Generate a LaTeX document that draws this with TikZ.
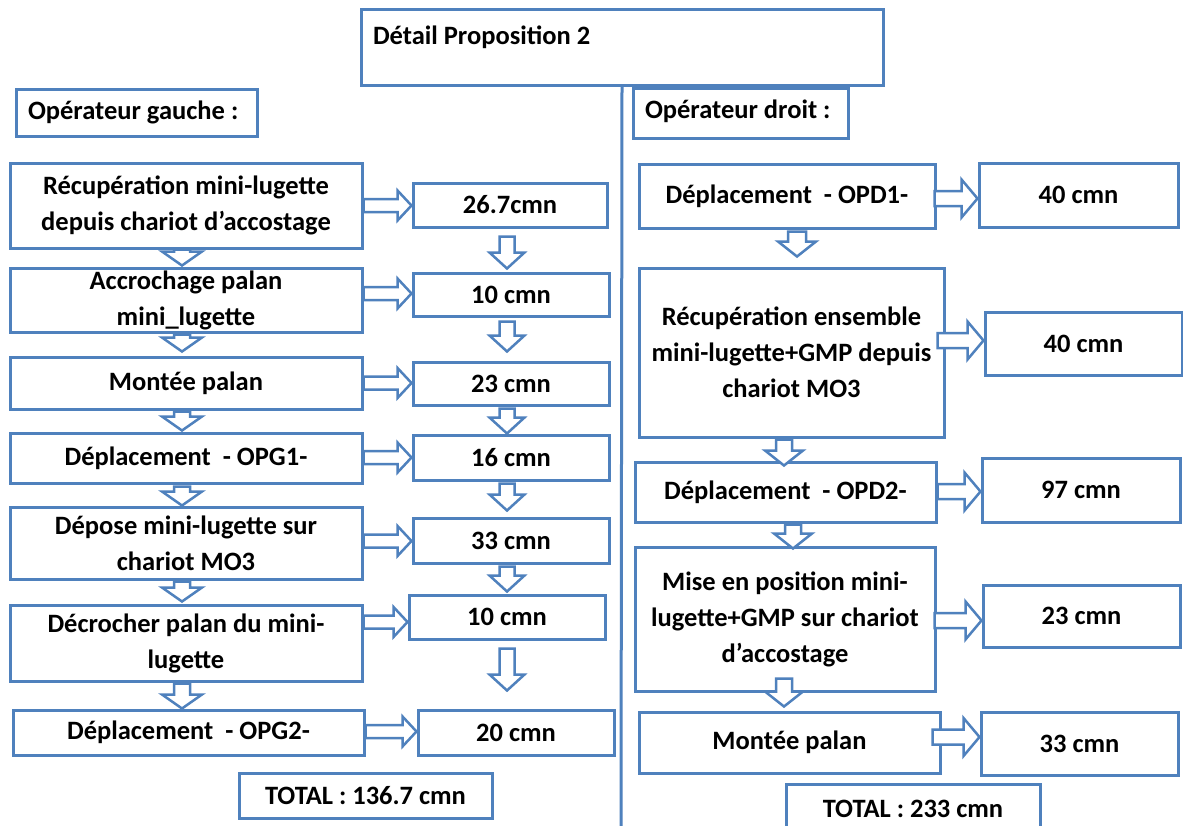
\documentclass[tikz,border=0pt]{standalone}
\usepackage{fontspec}
\setmainfont{Carlito}
\usetikzlibrary{calc}

\definecolor{boxblue}{HTML}{4F81BD}

\tikzset{
  box/.style={draw=boxblue, line width=3pt, fill=white, inner sep=0pt,
              align=center, font=\fontsize{26.5}{36}\selectfont\bfseries},
  blockarrow/.style={draw=boxblue, line width=2.5pt, fill=white, line join=miter},
  divider/.style={draw=boxblue, line width=3pt},
}

% one line of text with the font's own word spacing
\newcommand\oneline[1]{\mbox{\spaceskip=0pt \xspaceskip=0pt #1}}

% box given by its corners: [options]{name}{x1}{y1}{x2}{y2}{text}
\newcommand\pbox[7][]{%
  \node[box, minimum width={(#5-#3)*1pt}, minimum height={(#6-#4)*1pt}, #1]
    (#2) at ({(#3+#5)/2},{(#4+#6)/2}) {#7};}

% hollow arrow pointing right: {from}{to}{y}{tail inset}{shaft half}{head half}{head length}
\newcommand\harrow[7]{%
  \draw[blockarrow] let \p1=($(#1.east |- 0,#3)+(-#4,0)$), \p2=(#2.west |- 0,#3) in
    (\x1,{\y1-#5pt}) -- ({\x2-#7pt},{\y1-#5pt}) -- ({\x2-#7pt},{\y1-#6pt})
    -- (\x2,\y1) -- ({\x2-#7pt},{\y1+#6pt}) -- ({\x2-#7pt},{\y1+#5pt})
    -- (\x1,{\y1+#5pt}) -- cycle;}

% hollow arrow pointing down: {from}{to}{x}{start shift}{end shift}{shaft half}{head half}{head length}
\newcommand\varrow[8]{%
  \draw[blockarrow] let \p1=($(#3,0 |- #1.south)+(0,#4)$), \p2=($(#3,0 |- #2.north)+(0,#5)$) in
    ({\x1-#6pt},\y1) -- ({\x1-#6pt},{\y2+#8pt}) -- ({\x1-#7pt},{\y2+#8pt})
    -- (\x1,\y2) -- ({\x1+#7pt},{\y2+#8pt}) -- ({\x1+#6pt},{\y2+#8pt})
    -- ({\x1+#6pt},\y1) -- cycle;}

\begin{document}
\begin{tikzpicture}[x=1pt,y=-1pt]
\clip (0,0) rectangle (1183,825);
\fill[white] (0,0) rectangle (1183,825);

% header
\pbox[align=left, text width=498pt, inner xsep=12pt, text height=35pt, text depth=41pt]
  {title}{361}{9}{883}{85}{\oneline{Détail Proposition 2}}
\coordinate (vend) at (621,830);
\draw[divider] (title.south) -- (vend);

\pbox[align=left, text width=217pt, inner xsep=12pt, text height=30pt, text depth=17pt]
  {opg}{16}{89}{257}{136}{\oneline{Opérateur gauche :}}
\pbox[align=left, text width=191pt, inner xsep=12pt, text height=30pt, text depth=20pt]
  {opd}{633}{88}{848}{138}{\oneline{Opérateur droit :}}

% left operator: steps
\pbox{l1}{10}{163}{362}{248}{Récupération mini-lugette\\depuis chariot d’accostage}
\pbox{l2}{10}{268}{362}{332}{Accrochage palan\\mini\_lugette}
\pbox{l3}{10}{357}{362}{409}{Montée palan}
\pbox{l4}{10}{433}{362}{483}{Déplacement\ \ - OPG1-}
\pbox{l5}{10}{507}{362}{579}{Dépose mini-lugette sur\\chariot MO3}
\pbox{l6}{10}{605}{362}{681}{Décrocher palan du mini-\\lugette}
\pbox{l7}{13}{710}{364}{755}{Déplacement\ \ - OPG2-}

% left operator: durations
\pbox{v1}{413}{183}{607}{227}{26.7cmn}
\pbox{v2}{413}{273}{609}{316}{10 cmn}
\pbox{v3}{413}{362}{609}{405}{23 cmn}
\pbox{v4}{413}{435}{609}{480}{16 cmn}
\pbox{v5}{413}{518}{609}{563}{33 cmn}
\pbox{v6}{409}{595}{605}{639}{10 cmn}
\pbox{v7}{418}{710}{614}{755}{20 cmn}
\pbox{totl}{239}{773}{492}{818}{TOTAL : 136.7 cmn}

% right operator: steps
\pbox{r1}{639}{164}{935}{228}{Déplacement\ \ - OPD1-}
\pbox{r2}{639}{268}{944}{437}{Récupération ensemble\\mini-lugette+GMP depuis\\chariot MO3}
\pbox{r3}{635}{462}{936}{522}{Déplacement\ \ - OPD2-}
\pbox{r4}{635}{547}{935}{691}{Mise en position mini-\\lugette+GMP sur chariot\\d’accostage}
\pbox{r5}{639}{712}{940}{773}{Montée palan}

% right operator: durations
\pbox{w1}{979}{163}{1178}{227}{40 cmn}
\pbox{w2}{985}{312}{1182}{375}{40 cmn}
\pbox{w3}{982}{458}{1180}{522}{97 cmn}
\pbox{w4}{983}{585}{1180}{647}{23 cmn}
\pbox{w5}{981}{712}{1178}{775}{33 cmn}
\pbox[text height=33pt, text depth=28pt]{totr}{786}{784}{1040}{845}{TOTAL : 233 cmn}

% step -> duration arrows, left
\harrow{l1}{v1}{205.5}{0}{6.5}{15}{14}
\harrow{l2}{v2}{293.5}{0}{6.5}{15}{14}
\harrow{l3}{v3}{383}{0}{6.5}{15}{14}
\harrow{l4}{v4}{457.5}{0}{6.5}{15}{14}
\harrow{l5}{v5}{541}{0}{6.5}{15}{14}
\harrow{l6}{v6}{622}{0}{6.5}{15}{14}
\harrow{l7}{v7}{731.5}{0}{6.5}{15}{14}

% sequence arrows, left steps
\varrow{l1}{l2}{182}{0}{-1}{8}{20}{14}
\varrow{l2}{l3}{182}{1}{-4}{8}{20}{14}
\varrow{l3}{l4}{182}{1}{-1}{8}{20}{14}
\varrow{l4}{l5}{182}{2}{0}{8}{20}{14}
\varrow{l5}{l6}{182}{1}{-2}{8}{20}{14}
\varrow{l6}{l7}{182}{1}{0}{8}{20}{14}

% sequence arrows, left durations
\varrow{v1}{v2}{507}{8}{-3}{7.5}{17.5}{16}
\varrow{v2}{v3}{507}{4}{-9}{7.5}{17.5}{16}
\varrow{v3}{v4}{507}{2}{0}{7.5}{17.5}{16}
\varrow{v4}{v5}{507}{2}{-6}{7.5}{17.5}{16}
\varrow{v5}{v6}{507}{2}{-2}{7.5}{17.5}{16}
\varrow{v6}{v7}{507}{8}{-18}{7.5}{17.5}{16}

% step -> duration arrows, right
\harrow{r1}{w1}{198.5}{2}{7.5}{19}{16}
\harrow{r2}{w2}{340.5}{8}{7.5}{19}{16}
\harrow{r3}{w3}{491.5}{0}{7.5}{19}{16}
\harrow{r4}{w4}{620.5}{2}{7.5}{19}{16}
\harrow{r5}{w5}{737}{9}{7.5}{19}{16}

% sequence arrows, right steps
\varrow{r1}{r2}{797}{2}{-10}{9}{19}{15}
\varrow{r2}{r3}{784}{1}{5}{8}{19}{15}
\varrow{r3}{r4}{793}{1}{3}{8}{19}{15}
\varrow{r4}{r5}{784}{-14}{-4}{8}{19}{15}
\end{tikzpicture}
\end{document}
